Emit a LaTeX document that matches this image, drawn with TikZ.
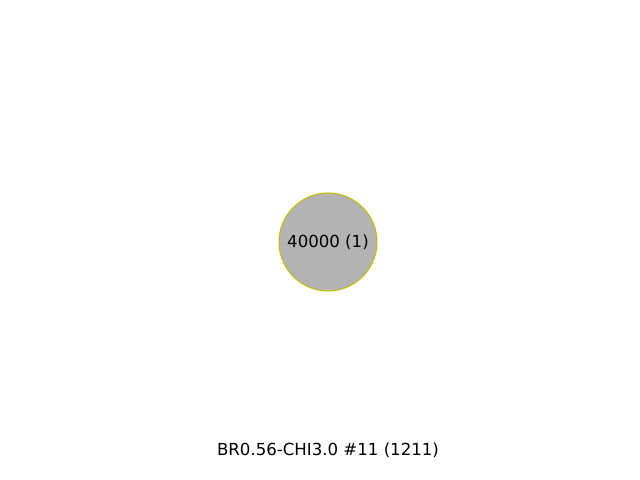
\documentclass[tikz,border=0pt]{standalone}
\usepackage{fontspec}
\setmainfont{DejaVu Sans}
\definecolor{nodefill}{HTML}{B3B3B3}
\definecolor{nodeedge}{HTML}{BFBF00}

\begin{document}
\begin{tikzpicture}[x=0.025cm, y=-0.025cm]

% === canvas (640 x 480 px) ===
\useasboundingbox (0,0) rectangle (640,480);

% === single cluster node ===
\node[circle, fill=nodefill, draw=nodeedge, line width=0.7pt,
      minimum size=2.45cm, inner sep=0pt,
      font=\fontsize{11.8}{14}\selectfont] (cluster) at (328,242) {40000 (1)};

% === title ===
\node[font=\fontsize{11.8}{14}\selectfont] (title) at (328,450) {BR0.56-CHI3.0 \#11 (1211)};

\end{tikzpicture}
\end{document}
